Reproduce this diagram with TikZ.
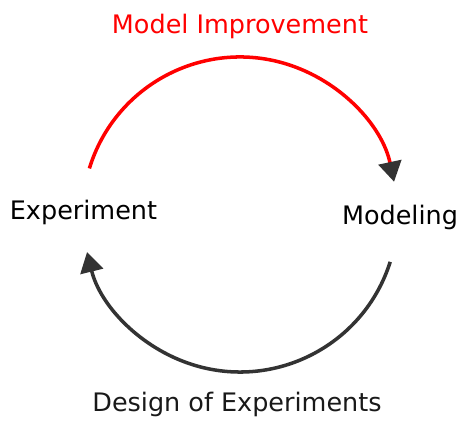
\documentclass[tikz,border=0pt]{standalone}
\usepackage{fontspec}
\setsansfont{DejaVu Sans}
\usetikzlibrary{arrows.meta}

\begin{document}
\begin{tikzpicture}[
	label/.style={anchor=base, inner sep=0pt, font=\sffamily\fontsize{14.5}{17}\selectfont},
	loop/.style={line width=2pt, -{Triangle[length=0.4cm, width=0.46cm, color=black!80]}},
	font=\sffamily
	]

	\useasboundingbox (0,0) rectangle (9.4,8.58);

	\coordinate (centre) at (4.8,4.29);

	\node[label, text=red] (improve) at (4.80,7.91) {Model Improvement};
	\node[label] (exp) at (1.67,4.18) {Experiment};
	\node[label] (mod) at (8.00,4.09) {Modeling};
	\node[label, text=black!90] (doe) at (4.74,0.35) {Design of Experiments};

	\coordinate (improve start) at ([shift={(163:3.15)}]centre);
	\coordinate (doe start) at ([shift={(-17.5:3.15)}]centre);

	\draw[loop, red] (improve start) arc[start angle=163, end angle=12, radius=3.15];
	\draw[loop, black!80] (doe start) arc[start angle=-17.5, end angle=-166.2, radius=3.15];

\end{tikzpicture}
\end{document}
